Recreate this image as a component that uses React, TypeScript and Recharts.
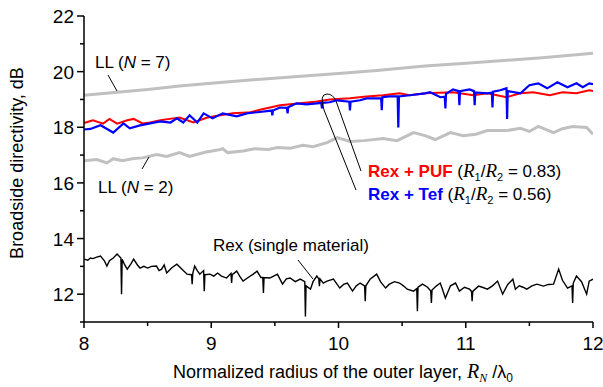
import React from 'react';
import { LineChart, Line, XAxis, YAxis } from 'recharts';

// [radius R_N/lambda_0, directivity dB]
const llN7: [number, number][] = [
  [8.0, 19.15], [8.26, 19.26], [8.5, 19.36], [8.75, 19.48], [9.0, 19.58], [9.33, 19.71],
  [9.6, 19.8], [10.0, 19.93], [10.3, 20.04], [10.68, 20.2], [11.0, 20.3], [11.3, 20.4],
  [11.6, 20.5], [12.0, 20.66],
];

const llN2: [number, number][] = [
  [8.0, 16.8], [8.1, 16.84], [8.18, 16.72], [8.23, 16.87], [8.3, 16.8], [8.39, 16.88],
  [8.46, 16.9], [8.57, 17.02], [8.65, 16.95], [8.75, 17.09], [8.83, 16.95], [8.95, 17.1],
  [9.05, 17.18], [9.09, 17.23], [9.13, 17.09], [9.25, 17.15], [9.34, 17.23], [9.45, 17.2],
  [9.52, 17.27], [9.62, 17.25], [9.72, 17.35], [9.8, 17.3], [9.91, 17.45], [9.99, 17.63],
  [10.09, 17.49], [10.2, 17.52], [10.35, 17.6], [10.46, 17.52], [10.59, 17.81], [10.68, 17.7],
  [10.76, 17.56], [10.88, 17.81], [10.98, 17.7], [11.08, 17.75], [11.17, 17.88], [11.32, 17.88],
  [11.43, 17.96], [11.5, 17.85], [11.57, 18.03], [11.69, 17.81], [11.76, 17.95], [11.84, 18.03],
  [11.95, 17.99], [12.0, 17.75],
];

const rexPuf: [number, number][] = [
  [8.0, 18.15], [8.02, 18.18], [8.07, 18.25], [8.15, 18.13], [8.2, 18.3], [8.26, 18.13],
  [8.34, 18.25], [8.39, 18.3], [8.46, 18.14], [8.52, 18.17], [8.6, 18.25], [8.7, 18.32],
  [8.75, 18.35], [8.86, 18.17], [8.97, 18.35], [9.07, 18.43], [9.17, 18.5], [9.28, 18.53],
  [9.3, 18.53], [9.4, 18.65], [9.54, 18.79], [9.7, 18.86], [9.83, 18.93], [9.93, 19.0],
  [10.09, 19.04], [10.22, 19.11], [10.35, 19.15], [10.48, 19.22], [10.56, 19.15], [10.68, 19.22],
  [10.9, 19.26], [11.06, 19.15], [11.17, 19.22], [11.32, 19.08], [11.43, 19.22], [11.53, 19.26],
  [11.66, 19.15], [11.76, 19.26], [11.87, 19.22], [11.97, 19.33], [12.0, 19.3],
];

const rexTef: [number, number][] = [
  [8.0, 17.92], [8.05, 17.94], [8.13, 18.07], [8.23, 17.81], [8.31, 18.14], [8.36, 17.96],
  [8.44, 18.07], [8.52, 18.14], [8.6, 18.21], [8.68, 18.17], [8.73, 18.32], [8.78, 18.17],
  [8.83, 18.43], [8.89, 18.17], [8.94, 18.5], [9.01, 18.32], [9.09, 18.5], [9.2, 18.39],
  [9.28, 18.5], [9.34, 18.53], [9.38, 18.55], [9.475, 18.6], [9.48, 18.43], [9.485, 18.6],
  [9.54, 18.71], [9.595, 18.7], [9.6, 18.5], [9.605, 18.72], [9.67, 18.86], [9.75, 18.82],
  [9.83, 18.86], [9.865, 18.88], [9.87, 18.68], [9.875, 18.88], [9.93, 18.9], [9.99, 18.97],
  [10.085, 18.92], [10.09, 18.61], [10.095, 18.92], [10.17, 18.97], [10.22, 19.04],
  [10.335, 19.05], [10.34, 18.61], [10.345, 19.08], [10.4, 19.11], [10.465, 19.11],
  [10.47, 17.99], [10.475, 19.11], [10.56, 19.15], [10.68, 19.22], [10.72, 19.26], [10.8, 19.08],
  [10.835, 19.1], [10.84, 18.68], [10.845, 19.2], [10.9, 19.36], [10.945, 19.3], [10.95, 18.79],
  [10.955, 19.3], [11.03, 19.36], [11.065, 19.3], [11.07, 18.79], [11.075, 19.25], [11.17, 19.22],
  [11.205, 19.25], [11.21, 18.71], [11.215, 19.28], [11.27, 19.33], [11.32, 19.4], [11.325, 18.3],
  [11.33, 19.3], [11.43, 19.22], [11.5, 19.51], [11.57, 19.58], [11.64, 19.4], [11.72, 19.62],
  [11.8, 19.44], [11.87, 19.58], [11.92, 19.44], [11.97, 19.58], [12.0, 19.55],
];

const rexSingle: [number, number][] = [
  [8.0, 13.26], [8.03, 13.22], [8.05, 13.3], [8.07, 13.28], [8.1, 13.33], [8.13, 13.37],
  [8.16, 13.2], [8.18, 13.01], [8.2, 13.2], [8.23, 13.3], [8.26, 13.44], [8.29, 13.3],
  [8.295, 12.0], [8.3, 13.25], [8.32, 13.05], [8.34, 12.9], [8.37, 13.1], [8.39, 13.26],
  [8.42, 13.05], [8.44, 12.94], [8.47, 13.0], [8.5, 12.94], [8.53, 13.0], [8.57, 13.01],
  [8.59, 12.85], [8.61, 12.9], [8.63, 13.05], [8.65, 12.76], [8.69, 12.95], [8.73, 13.08],
  [8.77, 12.9], [8.81, 12.72], [8.845, 12.7], [8.85, 12.36], [8.855, 12.75], [8.87, 13.01],
  [8.89, 12.85], [8.91, 12.72], [8.94, 12.85], [8.945, 12.11], [8.95, 12.7], [8.99, 12.72],
  [9.02, 12.65], [9.05, 12.76], [9.08, 12.65], [9.12, 12.58], [9.155, 12.75], [9.16, 12.4],
  [9.165, 12.7], [9.2, 12.83], [9.23, 12.6], [9.25, 12.47], [9.29, 12.6], [9.33, 12.72],
  [9.36, 12.83], [9.39, 12.6], [9.405, 12.6], [9.41, 12.04], [9.415, 12.6], [9.46, 12.58],
  [9.49, 12.65], [9.52, 12.72], [9.56, 12.36], [9.59, 12.55], [9.62, 12.58], [9.66, 12.45],
  [9.7, 12.54], [9.735, 12.45], [9.74, 11.2], [9.745, 12.3], [9.78, 12.18], [9.8, 12.45],
  [9.83, 12.65], [9.845, 12.55], [9.85, 12.29], [9.855, 12.55], [9.88, 12.4], [9.91, 12.47],
  [9.96, 12.54], [10.01, 12.22], [10.04, 12.35], [10.07, 12.4], [10.11, 12.11], [10.14, 12.3],
  [10.17, 12.4], [10.205, 12.3], [10.21, 11.75], [10.215, 12.3], [10.25, 12.55], [10.3, 12.72],
  [10.33, 12.45], [10.37, 12.22], [10.4, 12.36], [10.44, 12.45], [10.48, 12.4], [10.51, 12.3],
  [10.54, 12.18], [10.59, 12.11], [10.615, 12.2], [10.62, 11.39], [10.625, 12.25], [10.66, 12.36],
  [10.7, 12.25], [10.725, 12.11], [10.73, 11.68], [10.735, 12.15], [10.77, 12.3], [10.8, 12.4],
  [10.84, 11.86], [10.88, 12.3], [10.92, 12.4], [10.95, 12.11], [10.99, 12.25], [11.03, 12.18],
  [11.045, 12.1], [11.05, 11.75], [11.055, 12.1], [11.1, 12.29], [11.13, 12.25], [11.17, 12.18],
  [11.21, 12.3], [11.25, 12.47], [11.29, 12.0], [11.33, 12.35], [11.37, 12.54], [11.39, 12.18],
  [11.42, 12.3], [11.45, 12.25], [11.48, 12.18], [11.52, 12.3], [11.56, 12.36], [11.61, 12.29],
  [11.65, 12.35], [11.69, 12.36], [11.73, 12.9], [11.76, 12.5], [11.8, 12.22], [11.835, 12.3],
  [11.84, 11.68], [11.845, 12.4], [11.87, 12.65], [11.91, 12.45], [11.95, 12.0], [11.97, 12.47],
  [12.0, 12.54],
];

const xTicks = [8, 8.5, 9, 9.5, 10, 10.5, 11, 11.5, 12];
const yTicks = [11, 12, 13, 14, 15, 16, 17, 18, 19, 20, 21, 22];

const FONT = '"Liberation Sans", Arial, sans-serif';
const SERIF = '"Liberation Serif", "Times New Roman", serif';

const toPoints = (pts: [number, number][]) => pts.map(([x, y]) => ({ x, y }));

const BottomTick = ({ x, y, payload }: any) => {
  const major = Number.isInteger(payload.value);
  return (
    <g>
      <line x1={x} x2={x} y1={y} y2={y + (major ? 6 : 4)} stroke="#000" strokeWidth={1.5} />
      {major && (
        <text x={x} y={y + 28} textAnchor="middle" fontSize={19} fontFamily={FONT} fill="#000">
          {payload.value}
        </text>
      )}
    </g>
  );
};

const LeftTick = ({ x, y, payload }: any) => {
  const major = payload.value % 2 === 0;
  return (
    <g>
      <line x1={x} x2={x - (major ? 7 : 4)} y1={y} y2={y} stroke="#000" strokeWidth={1.5} />
      {major && (
        <text x={x - 10} y={y + 7} textAnchor="end" fontSize={19} fontFamily={FONT} fill="#000">
          {payload.value}
        </text>
      )}
    </g>
  );
};

const TopTick = ({ x, y }: any) => (
  <line x1={x} x2={x} y1={y} y2={y + 7} stroke="#000" strokeWidth={1.5} />
);

const RightTick = ({ x, y }: any) => (
  <line x1={x} x2={x - 7} y1={y} y2={y} stroke="#000" strokeWidth={1.5} />
);

const Overlay = () => (
  <svg
    width={603}
    height={387}
    style={{ position: 'absolute', left: 0, top: 0, pointerEvents: 'none' }}
    fontFamily={FONT}
  >
    {/* leader lines */}
    <line x1={108} y1={75} x2={117} y2={91} stroke="#000" strokeWidth={1} />
    <line x1={142} y1={169} x2={149} y2={157} stroke="#000" strokeWidth={1} />
    <line x1={298} y1={260} x2={313} y2={279} stroke="#000" strokeWidth={1} />
    <path
      d="M 356 190 L 324 110 Q 319 94 327 94 Q 333 94 336 101 L 361 171"
      fill="none"
      stroke="#000"
      strokeWidth={1}
    />

    <text x={95} y={68} fontSize={17} fill="#000">
      LL (<tspan fontStyle="italic">N</tspan> = 7)
    </text>
    <text x={98} y={193} fontSize={17} fill="#000">
      LL (<tspan fontStyle="italic">N</tspan> = 2)
    </text>
    <text x={213} y={251} fontSize={17} fill="#000">
      Rex (single material)
    </text>

    <text x={368} y={177} fontSize={17} fill="#000">
      <tspan fill="#ff0000" fontWeight="bold">Rex + PUF</tspan>
      <tspan> (</tspan>
      <tspan fontFamily={SERIF} fontStyle="italic" fontSize={19}>R</tspan>
      <tspan fontSize={11} dy={4}>1</tspan>
      <tspan dy={-4}>/</tspan>
      <tspan fontFamily={SERIF} fontStyle="italic" fontSize={19}>R</tspan>
      <tspan fontSize={11} dy={4}>2</tspan>
      <tspan dy={-4}> = 0.83)</tspan>
    </text>
    <text x={368} y={200} fontSize={17} fill="#000">
      <tspan fill="#0000ff" fontWeight="bold">Rex + Tef</tspan>
      <tspan> (</tspan>
      <tspan fontFamily={SERIF} fontStyle="italic" fontSize={19}>R</tspan>
      <tspan fontSize={11} dy={4}>1</tspan>
      <tspan dy={-4}>/</tspan>
      <tspan fontFamily={SERIF} fontStyle="italic" fontSize={19}>R</tspan>
      <tspan fontSize={11} dy={4}>2</tspan>
      <tspan dy={-4}> = 0.56)</tspan>
    </text>

    {/* axis titles */}
    <text x={343} y={378} fontSize={18} textAnchor="middle" fill="#000">
      Normalized radius of the outer layer,{' '}
      <tspan fontFamily={SERIF} fontStyle="italic" fontSize={20}>R</tspan>
      <tspan fontFamily={SERIF} fontStyle="italic" fontSize={12} dy={4}>N</tspan>
      <tspan dy={-4}> /λ</tspan>
      <tspan fontSize={12} dy={4}>0</tspan>
    </text>
    <text
      x={23}
      y={163}
      fontSize={18}
      textAnchor="middle"
      fill="#000"
      transform="rotate(-90 23 163)"
    >
      Broadside directivity, dB
    </text>
  </svg>
);

export default function App() {
  return (
    <div style={{ position: 'absolute', left: 0, top: 0, width: 603, height: 387, background: '#fff' }}>
      <LineChart width={603} height={387} margin={{ top: 16, right: 10, bottom: 20, left: 0 }}>
        <XAxis
          dataKey="x"
          type="number"
          domain={[8, 12]}
          ticks={xTicks}
          interval={0}
          allowDataOverflow
          height={45}
          tickSize={0}
          tickMargin={0}
          tickLine={false}
          tick={<BottomTick />}
          axisLine={{ stroke: '#000', strokeWidth: 1.5 }}
        />
        <XAxis
          xAxisId="top"
          dataKey="x"
          type="number"
          orientation="top"
          domain={[8, 12]}
          ticks={xTicks}
          interval={0}
          allowDataOverflow
          height={0}
          tickSize={0}
          tickMargin={0}
          tickLine={false}
          tick={<TopTick />}
          axisLine={{ stroke: '#000', strokeWidth: 1.5 }}
        />
        <YAxis
          dataKey="y"
          type="number"
          domain={[11, 22]}
          ticks={yTicks}
          interval={0}
          allowDataOverflow
          width={84}
          tickSize={0}
          tickMargin={0}
          tickLine={false}
          tick={<LeftTick />}
          axisLine={{ stroke: '#000', strokeWidth: 1.5 }}
        />
        <YAxis
          yAxisId="right"
          type="number"
          orientation="right"
          domain={[11, 22]}
          ticks={yTicks}
          interval={0}
          allowDataOverflow
          width={0}
          tickSize={0}
          tickMargin={0}
          tickLine={false}
          tick={<RightTick />}
          axisLine={{ stroke: '#000', strokeWidth: 1.5 }}
        />
        <Line data={toPoints(llN7)} dataKey="y" stroke="#c0c0c0" strokeWidth={3} dot={false} isAnimationActive={false} />
        <Line data={toPoints(llN2)} dataKey="y" stroke="#c0c0c0" strokeWidth={3} dot={false} isAnimationActive={false} />
        <Line data={toPoints(rexPuf)} dataKey="y" stroke="#ff0000" strokeWidth={2} dot={false} isAnimationActive={false} />
        <Line data={toPoints(rexTef)} dataKey="y" stroke="#0000ff" strokeWidth={2.2} dot={false} isAnimationActive={false} />
        <Line data={toPoints(rexSingle)} dataKey="y" stroke="#000" strokeWidth={1.4} dot={false} isAnimationActive={false} />
      </LineChart>
      <Overlay />
    </div>
  );
}
